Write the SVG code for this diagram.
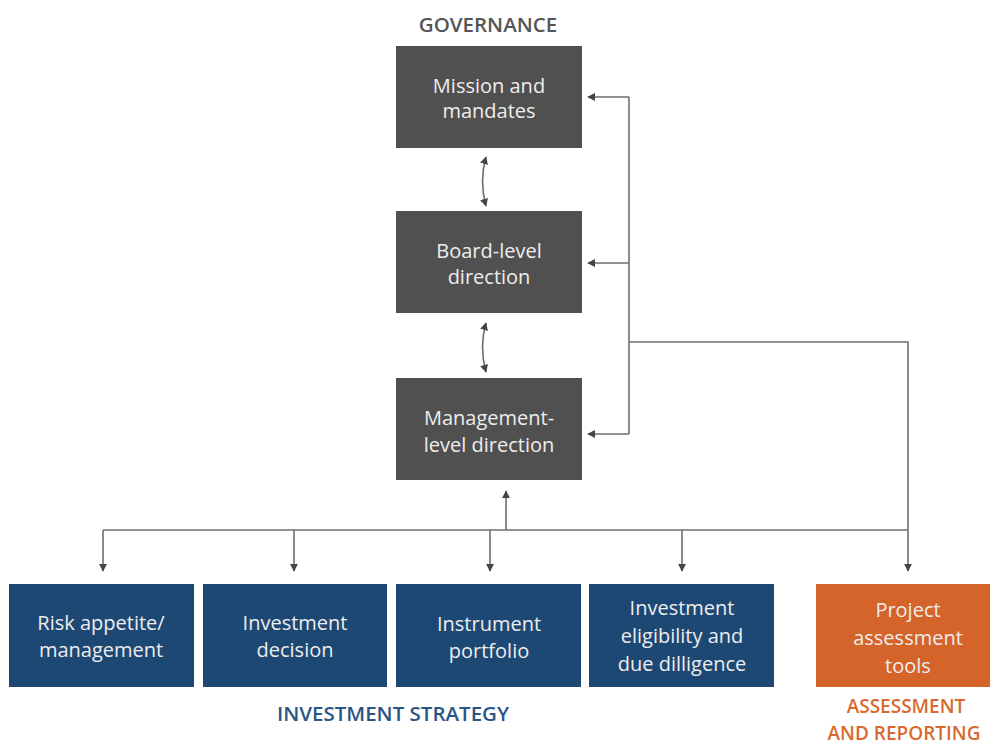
<svg xmlns="http://www.w3.org/2000/svg" width="990" height="747" viewBox="0 0 990 747">
<style>
.gov{fill:#505050}
.inv{fill:#1e4874}
.ass{fill:#d4642a}
.bt{font-family:"Open Sans","Liberation Sans",sans-serif;font-size:20px;font-weight:500;fill:#ededed;text-anchor:middle}
.hd{font-family:"Open Sans","Liberation Sans",sans-serif;font-size:20.5px;font-weight:600;text-anchor:middle}
.ln{fill:none;stroke:#6e6e6e;stroke-width:1.6}
</style>
<defs>
<marker id="ah" viewBox="0 0 10 10" refX="9" refY="5" markerWidth="8" markerHeight="8" orient="auto-start-reverse" markerUnits="userSpaceOnUse">
<path d="M0,0 L10,5 L0,10 z" fill="#444"/>
</marker>
</defs>
<rect width="990" height="747" fill="#fff"/>
<text class="hd" x="488" y="32" fill="#555">GOVERNANCE</text>
<g id="mission"><rect class="gov" x="396" y="46" width="186" height="102"/><text class="bt" x="489" y="93">Mission and</text><text class="bt" x="489" y="118">mandates</text></g>
<g id="board"><rect class="gov" x="396" y="211" width="186" height="102"/><text class="bt" x="489" y="258">Board-level</text><text class="bt" x="489" y="284">direction</text></g>
<g id="management"><rect class="gov" x="396" y="378" width="186" height="102"/><text class="bt" x="489" y="425">Management-</text><text class="bt" x="489" y="452">level direction</text></g>
<g id="risk"><rect class="inv" x="9" y="584" width="185" height="103"/><text class="bt" x="101" y="630">Risk appetite/</text><text class="bt" x="101" y="657">management</text></g>
<g id="decision"><rect class="inv" x="203" y="584" width="184" height="103"/><text class="bt" x="295" y="630">Investment</text><text class="bt" x="295" y="657">decision</text></g>
<g id="instrument"><rect class="inv" x="396" y="584" width="185" height="103"/><text class="bt" x="489" y="631">Instrument</text><text class="bt" x="489" y="658">portfolio</text></g>
<g id="eligibility"><rect class="inv" x="589" y="584" width="185" height="103"/><text class="bt" x="682" y="615">Investment</text><text class="bt" x="682" y="643">eligibility and</text><text class="bt" x="682" y="671">due dilligence</text></g>
<g id="project"><rect class="ass" x="816" y="584" width="178" height="103"/><text class="bt" x="908" y="617">Project</text><text class="bt" x="908" y="645">assessment</text><text class="bt" x="908" y="673">tools</text></g>
<text class="hd" x="393" y="721" fill="#2a5586">INVESTMENT STRATEGY</text>
<text class="hd" x="906" y="713" fill="#d86a30" style="font-size:19px">ASSESSMENT</text>
<text class="hd" x="904" y="740" fill="#d86a30" style="font-size:19px">AND REPORTING</text>
<g id="connectors">
<path class="ln" d="M486,157 Q479,181 486,206" marker-start="url(#ah)" marker-end="url(#ah)"/>
<path class="ln" d="M486,323 Q479,347 486,372" marker-start="url(#ah)" marker-end="url(#ah)"/>
<path class="ln" d="M629,97 V434"/>
<path class="ln" d="M629,97 H588" marker-end="url(#ah)"/>
<path class="ln" d="M629,263 H588" marker-end="url(#ah)"/>
<path class="ln" d="M629,434 H588" marker-end="url(#ah)"/>
<path class="ln" d="M629,342 H908 V571" marker-end="url(#ah)"/>
<path class="ln" d="M103,530 H908"/>
<path class="ln" d="M506,530 V491" marker-end="url(#ah)"/>
<path class="ln" d="M103,530 V571" marker-end="url(#ah)"/>
<path class="ln" d="M294,530 V571" marker-end="url(#ah)"/>
<path class="ln" d="M490,530 V571" marker-end="url(#ah)"/>
<path class="ln" d="M682,530 V571" marker-end="url(#ah)"/>
</g>
</svg>
